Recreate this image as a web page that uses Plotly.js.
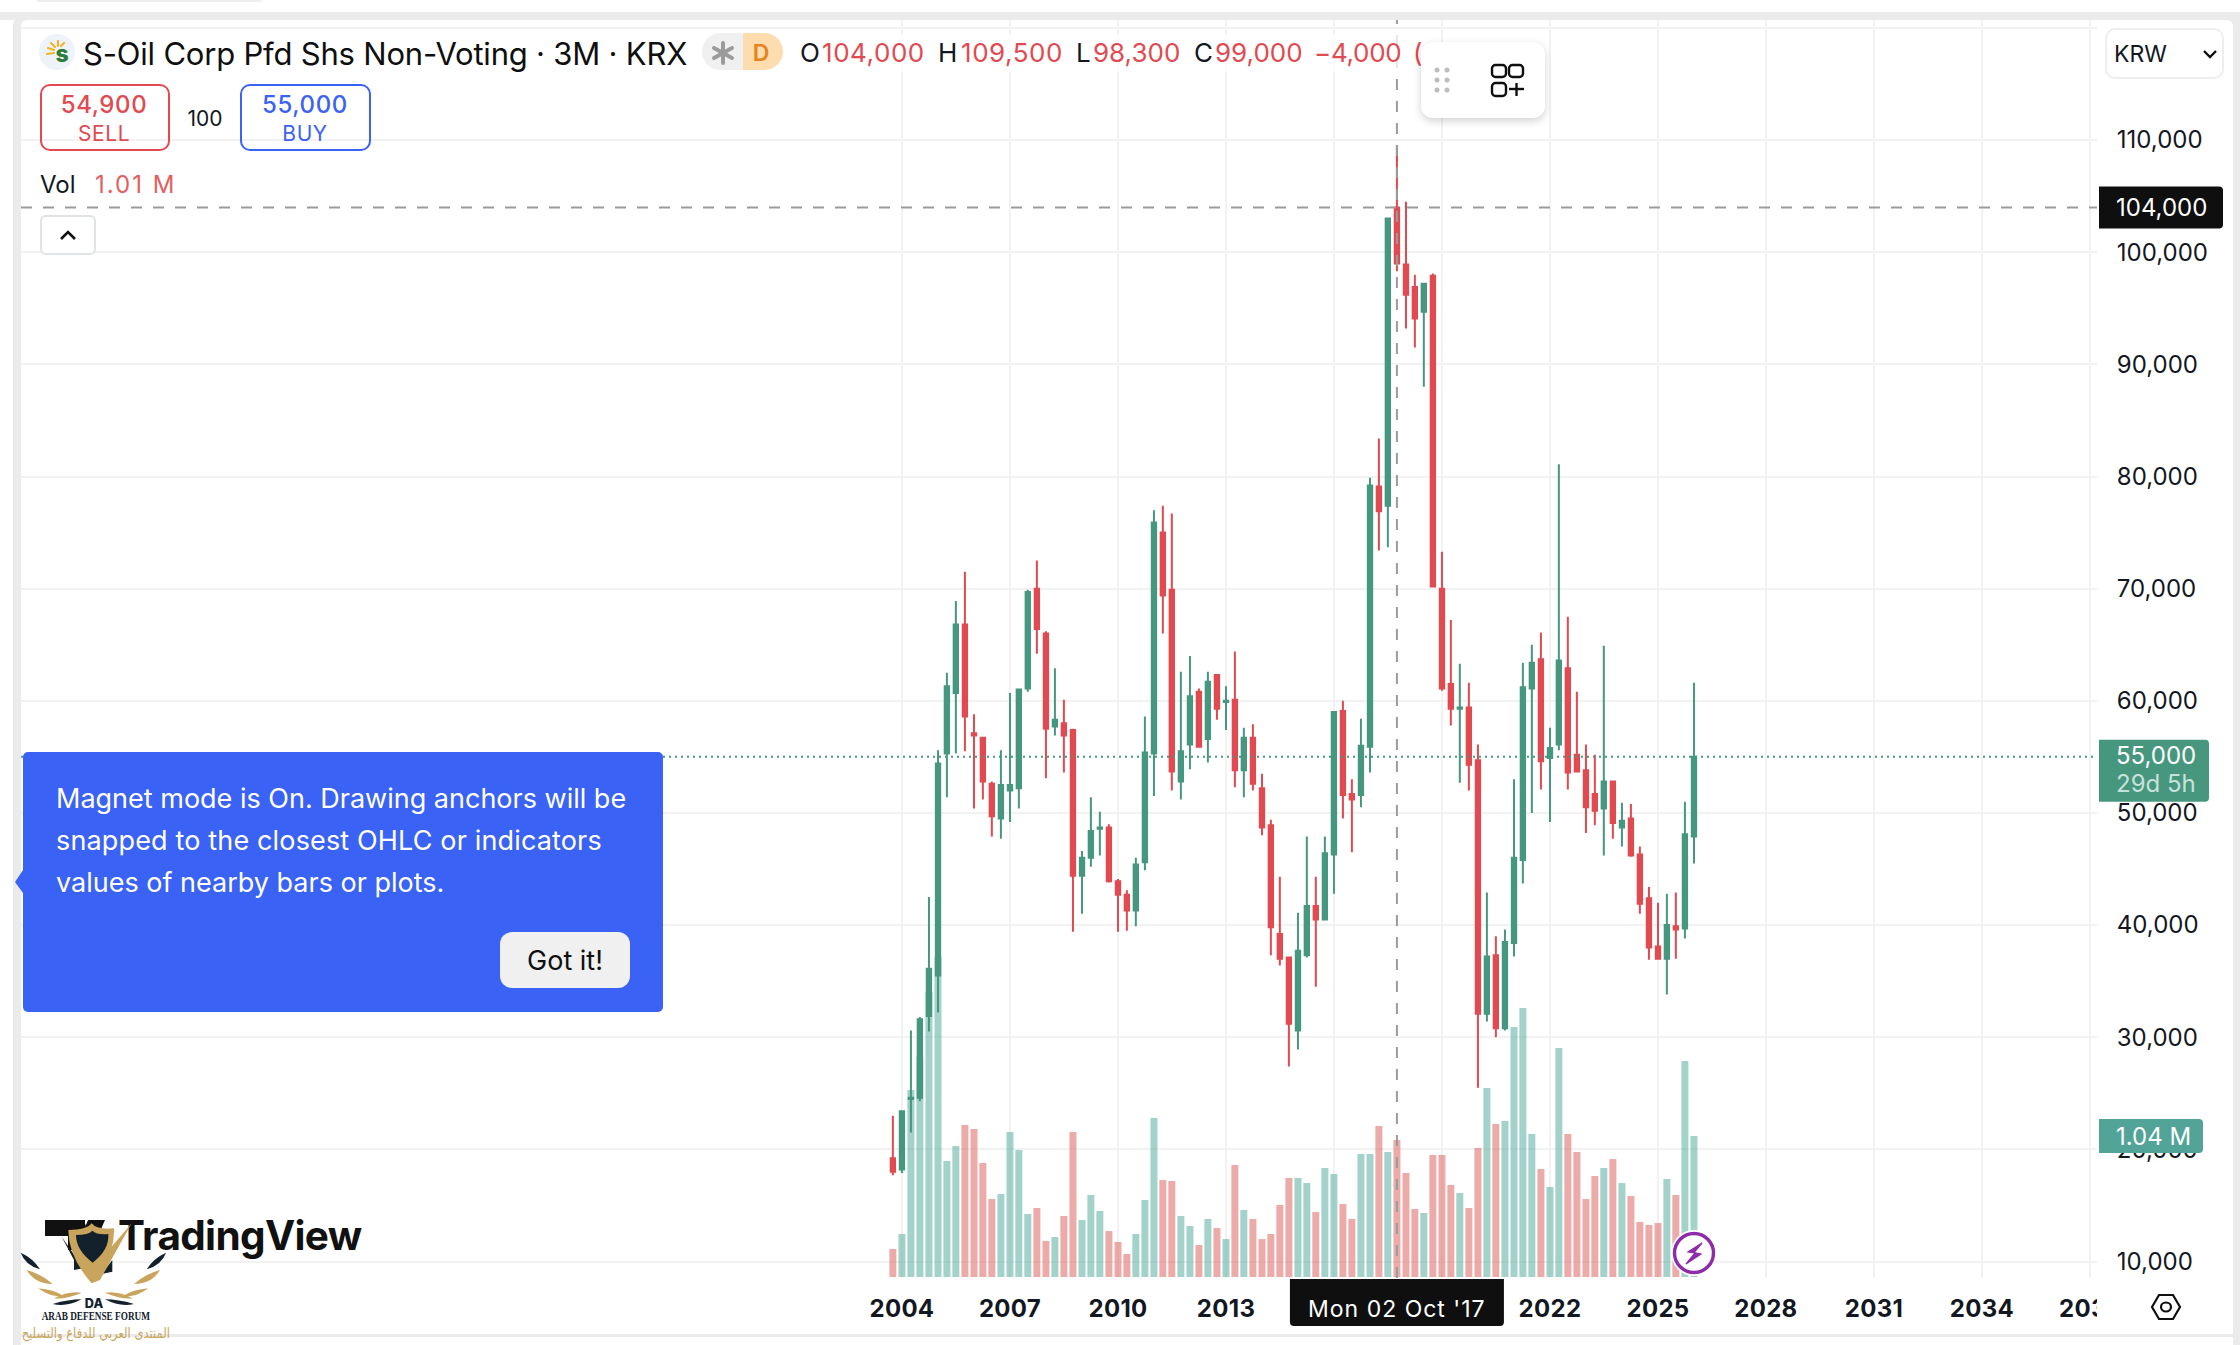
<!DOCTYPE html>
<html><head><meta charset="utf-8">
<script src="https://cdn.plot.ly/plotly-3.0.1.min.js"></script>
<style>
html,body{margin:0;padding:0;background:#fff;width:2240px;height:1345px;overflow:hidden}
#chart{position:absolute;left:0;top:0;width:2240px;height:1345px}
#chart .y2tick text,#chart .annotation-text{font-variant-numeric:tabular-nums}
#chart .annotation[data-index="4"] .annotation-text{letter-spacing:1px}
#chart .xtick text{letter-spacing:.3px}
.b{position:absolute;background:#ebebeb}
.t{position:absolute;white-space:nowrap;font-family:Inter,sans-serif;line-height:1;transform:translateY(-50%);color:#131722}
.c{transform:translate(-50%,-50%)}
.r{color:#e04a50}
.n{letter-spacing:.55px}
svg.o{position:absolute;left:0;top:0;pointer-events:none}
.box{position:absolute;box-sizing:border-box}
</style></head><body>
<div id="chart"></div>
<!-- mask for the axis label that runs under the price scale -->
<div class="box" style="left:2097px;top:1279px;width:136px;height:55px;background:#fff"></div>
<div class="box" style="left:21px;top:20px;width:2212px;height:1400px;border-radius:6px;box-shadow:0 0 0 8px #ebebeb"></div>
<div class="b" style="left:0;top:12px;width:2240px;height:8px"></div>
<div class="b" style="left:2233px;top:12px;width:7px;height:1333px"></div>
<div class="b" style="left:21px;top:1334px;width:2212px;height:3px"></div>
<div class="box" style="left:36px;top:-4px;width:226px;height:6px;background:#eee;border-radius:4px"></div>

<div class="box" style="left:790px;top:34px;width:631px;height:38px;background:rgba(255,255,255,.75)"></div>
<div class="t" style="left:83px;top:53px;font-size:31px;letter-spacing:-.2px;color:#0f0f0f">S-Oil Corp Pfd Shs Non-Voting · 3M · KRX</div>
<div class="box" style="left:702px;top:33px;width:41px;height:37px;background:#f0f0f0;border-radius:19px 0 0 19px"></div>
<div class="box" style="left:743px;top:33px;width:40px;height:37px;background:#fddcae;border-radius:0 19px 19px 0"></div>
<div class="t c" style="left:761px;top:53px;font-size:23px;font-weight:600;color:#e8821c">D</div>
<div class="t" style="left:800px;top:53px;font-size:26px">O</div>
<div class="t r n" style="left:822px;top:53px;font-size:26px">104,000</div>
<div class="t" style="left:938px;top:53px;font-size:26px">H</div>
<div class="t r n" style="left:961px;top:53px;font-size:26px">109,500</div>
<div class="t" style="left:1076px;top:53px;font-size:26px">L</div>
<div class="t r" style="left:1093px;top:53px;font-size:26px">98,300</div>
<div class="t" style="left:1194px;top:53px;font-size:26px">C</div>
<div class="t r" style="left:1215px;top:53px;font-size:26px">99,000</div>
<div class="t r" style="left:1314px;top:53px;font-size:26px;letter-spacing:-.3px">−4,000</div>
<div class="t r" style="left:1413px;top:53px;font-size:26px">(</div>

<div class="box" style="left:40px;top:84px;width:130px;height:67px;border:2px solid #e04a50;border-radius:10px"></div>
<div class="t c r" style="left:104px;top:105px;font-size:24px;font-weight:500;letter-spacing:.6px">54,900</div>
<div class="t c r" style="left:104px;top:133px;font-size:21px;letter-spacing:.6px">SELL</div>
<div class="t c" style="left:205px;top:118px;font-size:21px">100</div>
<div class="box" style="left:240px;top:84px;width:131px;height:67px;border:2px solid #3a62f5;border-radius:10px"></div>
<div class="t c" style="left:305px;top:105px;font-size:24px;font-weight:500;letter-spacing:.6px;color:#3a62f5">55,000</div>
<div class="t c" style="left:305px;top:133px;font-size:21px;letter-spacing:.6px;color:#3a62f5">BUY</div>
<div class="t" style="left:40px;top:185px;font-size:24px">Vol</div>
<div class="t" style="left:95px;top:185px;font-size:24px;letter-spacing:2px;color:#e4605f">1.01 M</div>
<div class="box" style="left:40px;top:215px;width:56px;height:40px;border:2px solid #e0e3e6;border-radius:6px;background:#fff"></div>

<div class="box" style="left:1421px;top:42px;width:124px;height:76px;background:#fff;border-radius:12px;box-shadow:0 3px 8px rgba(0,0,0,.18)"></div>

<div class="box" style="left:2105px;top:28px;width:119px;height:51px;border:2px solid #eee;border-radius:10px;background:#fff"></div>
<div class="t" style="left:2114px;top:54px;font-size:23px">KRW</div>

<div class="box" style="left:23px;top:752px;width:640px;height:260px;background:#3a62f5;border-radius:5px"></div>
<div class="t" style="left:56px;top:798px;font-size:27px;color:#fff">Magnet mode is On. Drawing anchors will be</div>
<div class="t" style="left:56px;top:840px;font-size:27px;letter-spacing:.15px;color:#fff">snapped to the closest OHLC or indicators</div>
<div class="t" style="left:56px;top:882px;font-size:27px;color:#fff">values of nearby bars or plots.</div>
<div class="box" style="left:500px;top:932px;width:130px;height:56px;background:#f0f0f0;border-radius:12px"></div>
<div class="t c" style="left:565px;top:960px;font-size:27px;color:#0f0f0f">Got it!</div>

<svg class="o" width="2240" height="1345" viewBox="0 0 2240 1345">
  <polygon points="23,870 15,882 23,893" fill="#3a62f5"/>
  <circle cx="57" cy="52" r="18" fill="#eef2f9"/>
  <g stroke="#f0b429" stroke-width="2.2" stroke-linecap="round">
    <line x1="54" y1="50" x2="48" y2="48"/><line x1="55" y1="47" x2="51" y2="43"/>
    <line x1="58" y1="46" x2="58" y2="41"/><line x1="54" y1="53" x2="47" y2="54"/>
    <line x1="61" y1="46" x2="64" y2="43"/>
  </g>
  <text x="62" y="62" text-anchor="middle" font-family="Inter" font-weight="800" font-size="23" fill="#2f7d36">s</text>
  <g stroke="#9b9b9b" stroke-width="4" stroke-linecap="round">
    <line x1="723" y1="43" x2="723" y2="63"/><line x1="714" y1="48" x2="732" y2="58"/><line x1="714" y1="58" x2="732" y2="48"/>
  </g>
  <polyline points="61,239 68,232 75,239" fill="none" stroke="#0f0f0f" stroke-width="2.6"/>
  <g fill="#bdbdbd">
    <circle cx="1437" cy="70" r="2.5"/><circle cx="1447" cy="70" r="2.5"/>
    <circle cx="1437" cy="80" r="2.5"/><circle cx="1447" cy="80" r="2.5"/>
    <circle cx="1437" cy="90" r="2.5"/><circle cx="1447" cy="90" r="2.5"/>
  </g>
  <g fill="none" stroke="#0f0f0f" stroke-width="2.4">
    <rect x="1492" y="65" width="14" height="12" rx="3.5"/><rect x="1509" y="65" width="14" height="12" rx="3.5"/>
    <rect x="1492" y="83" width="14" height="13" rx="3.5"/>
    <line x1="1509" y1="89" x2="1524" y2="89"/><line x1="1516.5" y1="83" x2="1516.5" y2="96"/>
  </g>
  <polyline points="2204,51 2210,57 2216,51" fill="none" stroke="#0f0f0f" stroke-width="2.4"/>
  <g fill="none" stroke="#0f0f0f" stroke-width="2.2">
    <polygon points="2152,1307 2159,1295 2173,1295 2180,1307 2173,1319 2159,1319"/>
    <ellipse cx="2166" cy="1307" rx="5" ry="4.5"/>
  </g>
  <circle cx="1694" cy="1253" r="23" fill="#fff"/>
  <circle cx="1694" cy="1253" r="19.5" fill="#fff" stroke="#8e2bab" stroke-width="3.4"/>
  <polygon points="1702,1243 1688,1252 1695,1253 1686,1264 1701,1254 1694,1252.5" fill="#8e2bab" stroke="#8e2bab" stroke-width="1.2"/>

  <g fill="#111">
    <path d="M45 1220H85V1250H68V1236H45Z"/><circle cx="80" cy="1227" r="6"/><path d="M88 1220H105L92 1250H76Z"/>
  </g>
  <text x="118" y="1250" font-family="Inter" font-weight="700" font-size="40.5" letter-spacing="-.65" fill="#111">TradingView</text>
  <g transform="translate(0,1180) scale(0.33333)">
    <g id="lv">
      <path d="M62 218Q75 255 120 268Q100 235 62 218Z" fill="#12212c"/>
      <path d="M80 270Q105 312 158 312Q125 282 80 270Z" fill="#c9a45c"/>
      <path d="M115 325Q150 352 195 350Q160 328 115 325Z" fill="#c9a45c"/>
      <path d="M162 355Q200 358 245 338Q205 332 162 355Z" fill="#c9a45c"/>
      <path d="M158 372Q200 382 245 358Q205 358 158 372Z" fill="#12212c"/>
    </g>
    <use href="#lv" transform="translate(560,0) scale(-1,1)"/>
    <path d="M185 170L250 265L222 270L222 240Z" fill="#12212c"/>
    <path d="M337 240L337 275L305 282Z" fill="#12212c"/>
    <path d="M205 150Q260 150 275 130Q290 150 342 145Q345 230 275 310Q205 230 205 150Z" fill="#c9a45c"/>
    <path d="M228 165Q265 165 277 152Q290 165 325 162Q328 210 278 248Q228 210 228 165Z" fill="#12212c"/>
    <path d="M275 270L395 130L300 300L275 310Z" fill="#c9a45c"/>
    <text x="282" y="383" text-anchor="middle" font-family="Inter" font-weight="800" font-size="38" fill="#12212c">DA</text>
    <text x="125" y="421" font-family="Liberation Serif" font-weight="700" font-size="38" textLength="325" lengthAdjust="spacingAndGlyphs" fill="#12212c">ARAB DEFENSE FORUM</text>
    <text x="510" y="474" text-anchor="start" direction="rtl" font-family="DejaVu Sans" font-size="42" textLength="445" lengthAdjust="spacingAndGlyphs" fill="#c9a45c">المنتدى العربي للدفاع والتسليح</text>
  </g>
</svg>

<script>
const quarters = [
'2003-10-01','2004-01-01','2004-04-01','2004-07-01','2004-10-01','2005-01-01','2005-04-01','2005-07-01','2005-10-01',
'2006-01-01','2006-04-01','2006-07-01','2006-10-01','2007-01-01','2007-04-01','2007-07-01','2007-10-01',
'2008-01-01','2008-04-01','2008-07-01','2008-10-01','2009-01-01','2009-04-01','2009-07-01','2009-10-01',
'2010-01-01','2010-04-01','2010-07-01','2010-10-01','2011-01-01','2011-04-01','2011-07-01','2011-10-01',
'2012-01-01','2012-04-01','2012-07-01','2012-10-01','2013-01-01','2013-04-01','2013-07-01','2013-10-01',
'2014-01-01','2014-04-01','2014-07-01','2014-10-01','2015-01-01','2015-04-01','2015-07-01','2015-10-01',
'2016-01-01','2016-04-01','2016-07-01','2016-10-01','2017-01-01','2017-04-01','2017-07-01','2017-10-01',
'2018-01-01','2018-04-01','2018-07-01','2018-10-01','2019-01-01','2019-04-01','2019-07-01','2019-10-01',
'2020-01-01','2020-04-01','2020-07-01','2020-10-01','2021-01-01','2021-04-01','2021-07-01','2021-10-01',
'2022-01-01','2022-04-01','2022-07-01','2022-10-01','2023-01-01','2023-04-01','2023-07-01','2023-10-01',
'2024-01-01','2024-04-01','2024-07-01','2024-10-01','2025-01-01','2025-04-01','2025-07-01','2025-10-01','2026-01-01'];
const opens = [19200,18200,24500,24600,31900,35500,55300,60700,66800,57100,56700,52600,49500,52000,52200,61100,70000,66000,57700,58000,57400,44400,46000,48600,48700,43900,42700,41300,45600,55300,75000,69900,52800,56100,60800,56600,62300,59900,60100,53800,56700,52200,48900,39200,37100,30600,37300,41700,40500,46300,59100,51700,51600,55900,79100,77400,104000,98900,96900,94700,97900,70000,61500,59300,59400,54700,32100,37300,30800,38400,45800,61100,63700,54900,56100,62900,55200,53800,51700,50400,52800,48700,49500,46300,42400,38100,37000,39900,39700,47900];
const highs = [23000,23400,30600,31800,42500,55600,62500,68900,71500,58800,56800,52800,55600,60700,61000,69900,72500,66200,62900,60100,57500,46600,51400,50100,49000,44100,43100,46000,58600,77000,77400,76700,62600,64000,61100,62600,62400,61300,64400,57600,57900,53500,49400,44300,37100,41100,47900,44300,47900,59100,60000,53000,58400,79900,83400,103000,109500,104500,98000,97200,98100,73300,67200,63300,61600,56100,42900,39000,39600,53000,63400,65000,66100,57600,81100,67500,60800,56100,55200,64900,52800,50900,50800,47000,43400,42000,42800,42900,51000,61600];
const lows = [17700,17900,21500,24300,30500,32200,51400,55300,55500,50400,51200,47900,47700,49200,50400,60800,64200,53100,56900,53600,39400,41000,45200,46200,43800,39400,39500,39900,44900,51500,66000,52000,51200,53900,55900,54500,58300,57400,52300,51400,52000,48000,37300,36400,27400,28900,37100,34500,40400,42800,49500,46500,50500,53600,73400,73700,98300,93200,91500,88000,70100,60900,57800,52700,52000,25500,31400,30000,30600,37200,43700,50000,52100,49200,55600,52100,53700,48200,48900,46200,47700,47000,46100,41000,36900,37000,33800,37000,38800,45500];
const closes = [18000,23400,24600,31600,36100,54400,61300,66800,58600,56900,52800,49700,52500,52500,61000,69700,66400,57500,58300,56900,44400,46000,48400,48700,43900,42700,41300,45400,55400,75900,69400,53700,55500,60400,55900,61700,59300,60000,53800,56700,52600,48700,39800,37000,31200,37700,41700,40500,46400,59000,51600,51200,56000,79200,76900,103000,99000,96200,94100,97200,70200,61100,59300,59400,54300,32100,37200,30800,38500,46000,61200,63400,54600,55800,63600,53600,53700,50500,50200,52800,49100,49300,46200,41900,38000,37000,40000,39600,48100,55000];
const volumesK = [207,317,1379,1623,2102,2360,856,966,1121,1092,841,575,612,1070,937,465,509,266,295,450,1070,420,605,487,339,258,170,317,568,1173,715,708,450,376,236,428,361,280,826,494,428,280,317,531,730,730,693,479,804,760,538,428,907,907,1114,922,1010,767,502,472,900,900,679,620,509,951,1394,1129,1151,1844,1984,1055,797,664,1689,1055,922,575,745,804,870,693,597,406,384,398,723,605,1593,1040];
const yearTicks = ['2004','2007','2010','2013','2016','2019','2022','2025','2028','2031','2034','2037'];
const yearLabels = ['2004','2007','2010','2013','','','2022','2025','2028','2031','2034','2037'];
const priceTicks = [10000,20000,30000,40000,50000,60000,70000,80000,90000,100000,110000,120000];
const hoverDate = '2017-10-01';
const hoverLabel = "Mon 02 Oct '17";
const hoverPrice = 104000;
const lastPrice = 55000;
const lastVolumeK = 1040;
const countdown = '29d 5h';

const GREEN = '#46977f', RED = '#e04a50', DAY = 86400000;
const fmt = v => v.toLocaleString('en-US');

function roundTag(xref, xanchor, yref, yanchor, l, r, top, bot, rad, fill, sharp) {
  // rounded rectangle in pixel units around an axis-anchored point (+y is up)
  const tl = sharp === 'left' || sharp === 'top' ? 0 : rad;
  const bl = sharp === 'left' ? 0 : rad;
  const tr = sharp === 'top' ? 0 : rad;
  const br = rad;
  return {type:'path', layer:'above', xref, yref, xsizemode:'pixel', ysizemode:'pixel', xanchor, yanchor,
    path:`M${l+tl} ${top}L${r-tr} ${top}Q${r} ${top} ${r} ${top-tr}L${r} ${bot+br}Q${r} ${bot} ${r-br} ${bot}L${l+bl} ${bot}Q${l} ${bot} ${l} ${bot+bl}L${l} ${top-tl}Q${l} ${top} ${l+tl} ${top}Z`,
    fillcolor:fill, line:{width:0}};
}
function priceText(text, yref, y, color, yshift) {
  return {text, xref:'paper', x:1, xshift:17, xanchor:'left', yref, y, yanchor:'middle', yshift:yshift||0,
    showarrow:false, font:{family:'Inter', size:24, color}};
}

const data = [
  {type:'bar', x:quarters, y:volumesK, yaxis:'y', xaxis:'x', width:71*DAY,
   marker:{color:opens.map((o,i)=> closes[i] >= o ? 'rgba(70,165,150,0.5)' : 'rgba(217,87,81,0.5)'), line:{width:0}}},
  {type:'candlestick', x:quarters, open:opens, high:highs, low:lows, close:closes, yaxis:'y2', xaxis:'x', width:61*DAY,
   increasing:{line:{color:GREEN,width:2}, fillcolor:GREEN},
   decreasing:{line:{color:RED,width:2}, fillcolor:RED}}
];

const layout = {
  width:2240, height:1345, autosize:false, showlegend:false, hovermode:false,
  margin:{l:21, r:143, t:20, b:67, pad:0},
  paper_bgcolor:'#fff', plot_bgcolor:'#fff',
  font:{family:'Inter', color:'#131722'},
  xaxis:{type:'date', range:['1979-07-13','2037-03-13'], rangeslider:{visible:false},
    tickmode:'array', tickvals:yearTicks.map(y=>y+'-01-01'), ticktext:yearLabels,
    showgrid:true, gridcolor:'#f2f2f2', gridwidth:2, zeroline:false, showline:false,
    ticks:'outside', ticklen:9, tickcolor:'rgba(0,0,0,0)',
    tickfont:{family:'Inter', size:24, color:'#131722', weight:700}},
  yaxis:{range:[-7.4,9272], visible:false, showgrid:false, zeroline:false, fixedrange:true},
  yaxis2:{overlaying:'y', side:'right', anchor:'x', range:[8529,120709],
    tickmode:'array', tickvals:priceTicks, ticktext:priceTicks.map(v=> v>=120000 ? '' : fmt(v)),
    showgrid:true, gridcolor:'#f2f2f2', gridwidth:2, zeroline:false, showline:false,
    ticks:'outside', ticklen:14, tickcolor:'rgba(0,0,0,0)',
    tickfont:{family:'Inter', size:24, color:'#131722'}},
  shapes:[
    {type:'line', layer:'above', xref:'paper', x0:0, x1:1, yref:'y2', y0:lastPrice, y1:lastPrice, line:{color:GREEN,width:2,dash:'2px,4px'}},
    {type:'line', layer:'above', xref:'paper', x0:0, x1:1, yref:'y2', y0:hoverPrice, y1:hoverPrice, line:{color:'#9b9b9b',width:2,dash:'11px,11px'}},
    {type:'line', layer:'above', xref:'x', x0:hoverDate, x1:hoverDate, yref:'paper', y0:0, y1:1, line:{color:'#9b9b9b',width:2,dash:'11px,11px'}},
    roundTag('paper',1,'y2',hoverPrice,2,126,21,-21,4,'#0f0f0f','left'),
    roundTag('paper',1,'y2',lastPrice,2,112,17,-45,4,'#47977f','left'),
    roundTag('paper',1,'y',lastVolumeK,2,106,17,-17,4,'#52a498','left'),
    roundTag('x',hoverDate,'paper',0,-107,107,-1,-48,4,'#0f0f0f','top')
  ],
  annotations:[
    priceText(fmt(hoverPrice),'y2',hoverPrice,'#fff'),
    priceText(fmt(lastPrice),'y2',lastPrice,'#fff',1),
    priceText(countdown,'y2',lastPrice,'#c6e2da',-27),
    priceText((lastVolumeK/1000).toFixed(2)+' M','y',lastVolumeK,'#fff'),
    {text:hoverLabel, xref:'x', x:hoverDate, yref:'paper', y:0, yanchor:'top', yshift:-15, showarrow:false,
     font:{family:'Inter', size:23, color:'#fff'}}
  ]
};
Plotly.newPlot('chart', data, layout, {staticPlot:true, displayModeBar:false});
</script>
</body></html>
